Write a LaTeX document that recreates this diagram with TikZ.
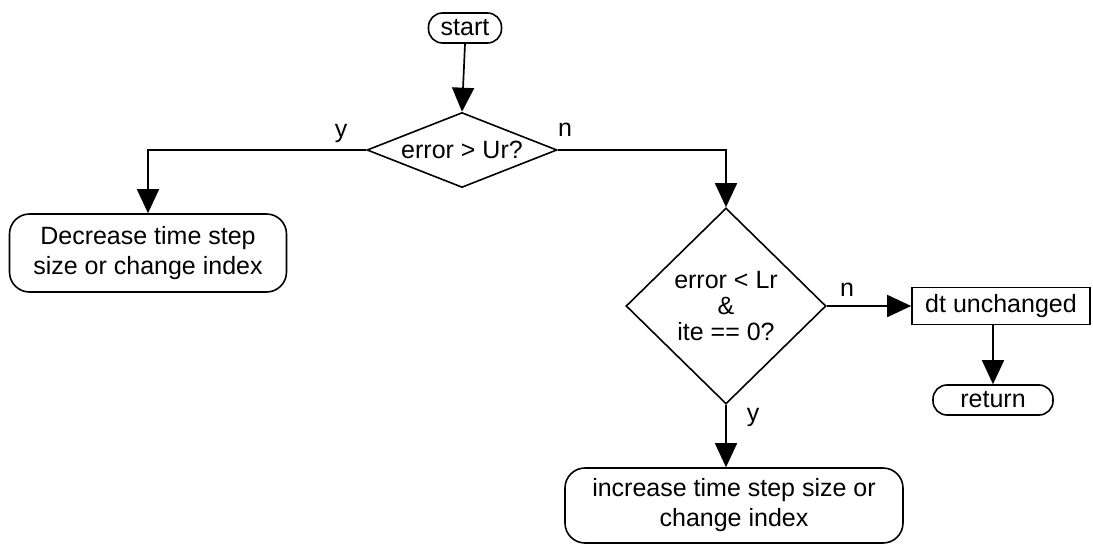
\documentclass[tikz,border=0pt]{standalone}
\usepackage{fontspec}
\setmainfont{Liberation Sans}
\usetikzlibrary{arrows.meta,shapes.geometric}
\begin{document}
\begin{tikzpicture}[x=1pt,y=-1pt,
  every node/.style={font=\fontsize{25}{30}\selectfont},
  arr/.style={line width=1.7pt,-{Triangle[width=22pt,length=24pt]}},
  pill/.style={draw,line width=1.6pt,rounded corners=14pt,inner sep=0pt},
  roundbox/.style={draw,line width=1.6pt,rounded corners=20pt,inner sep=0pt,align=center},
  decision/.style={draw,line width=1.6pt,diamond,inner sep=0pt,align=center},
  plainbox/.style={draw,line width=1.6pt,inner sep=0pt},
  lab/.style={inner sep=0pt}]
\useasboundingbox (0,0) rectangle (1093,546);
\node[pill,minimum width=73pt,minimum height=30pt] (start) at (465,28) {start};
\node[decision,aspect=2.53,minimum width=190pt,minimum height=75pt] (d1) at (462,150) {error > Ur?};
\node[roundbox,minimum width=277pt,minimum height=78pt] (dec) at (148,253) {Decrease time step\\size or change index};
\node[decision,aspect=1,minimum width=200pt,minimum height=196pt,font=\fontsize{25}{26}\selectfont] (d2) at (726,306) {error < Lr\\\&\\ite == 0?};
\node[plainbox,minimum width=178pt,minimum height=37pt] (dt) at (1001,306) {dt unchanged};
\node[pill,minimum width=120pt,minimum height=30pt] (ret) at (993,400) {return};
\node[roundbox,minimum width=338pt,minimum height=75pt] (inc) at (734,505.5) {increase time step size or\\change index};
\node[lab] (ly1) at (341,133) {y};
\node[lab] (ln1) at (565,130) {n};
\node[lab] (ln2) at (847,290) {n};
\node[lab] (ly2) at (753,417) {y};
\draw[arr] (start.south) -- (d1.north);
\draw[arr] (d1.west) -| (dec.north);
\draw[arr] (d1.east) -| (d2.north);
\draw[arr] (d2.east) -- (dt.west);
\draw[arr] (ret.north |- dt.south) -- (ret.north);
\draw[arr] (d2.south) -- (d2.south |- inc.north);
\end{tikzpicture}
\end{document}
